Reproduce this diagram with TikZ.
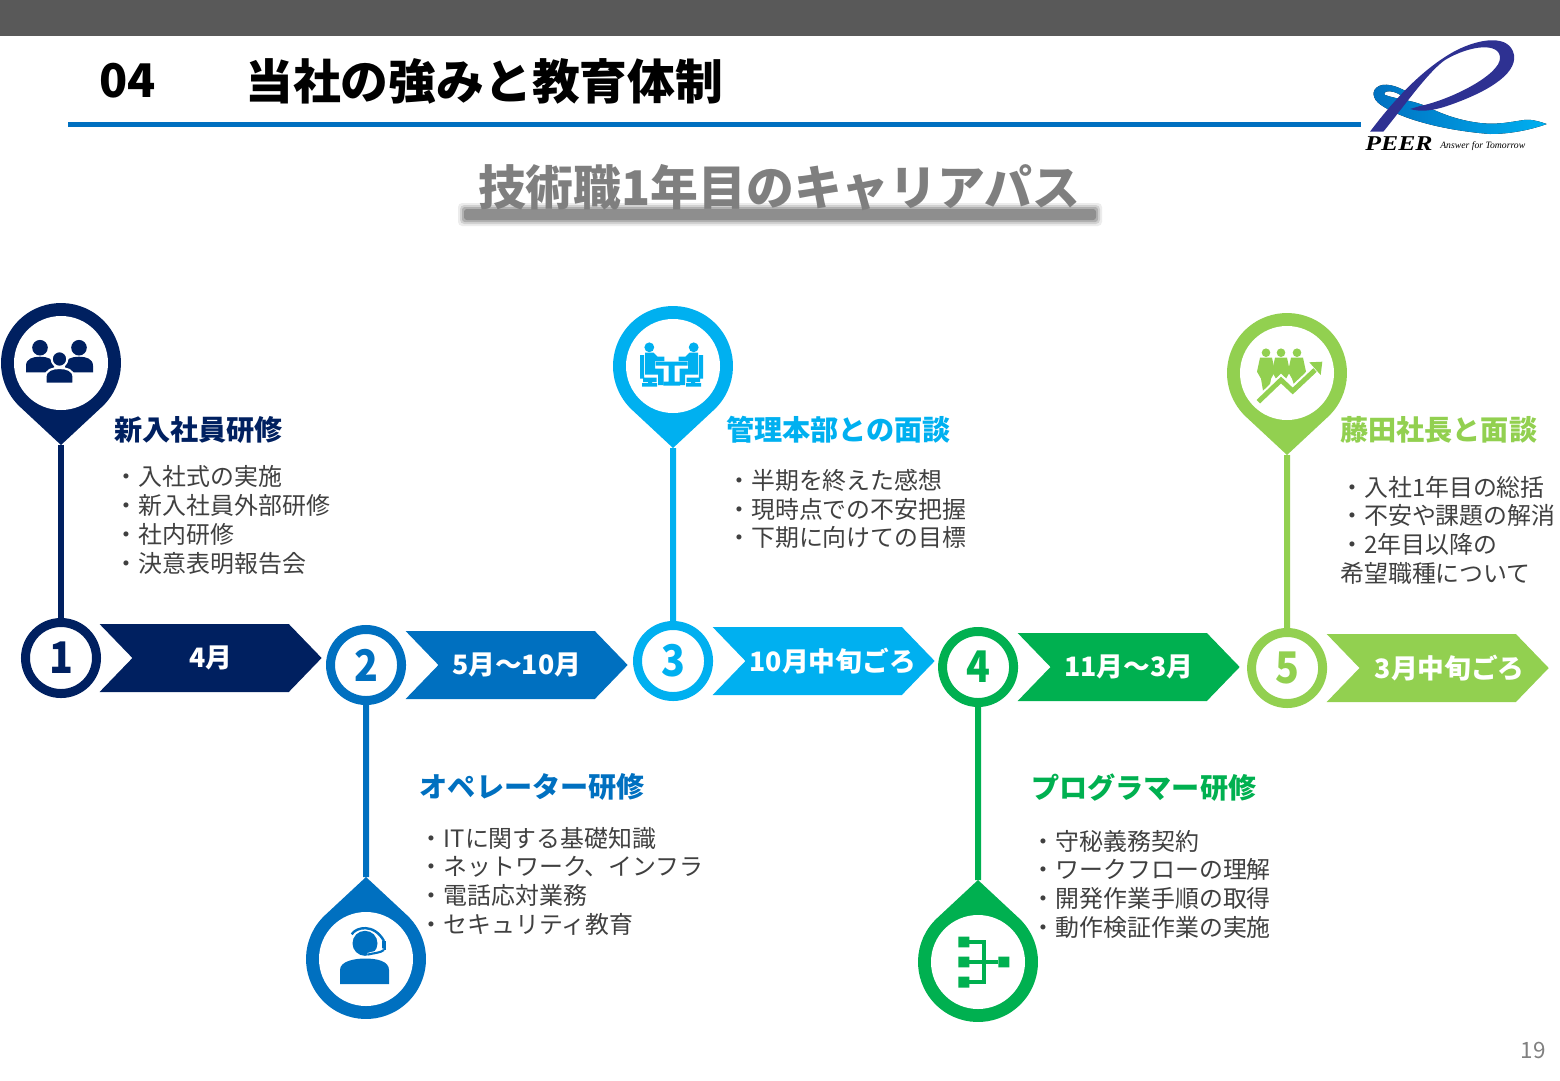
\documentclass[tikz,border=0pt]{standalone}
\usepackage{fontspec}
\setmainfont{Noto Sans CJK JP}
\newfontfamily\logofont{Liberation Serif}
\newfontfamily\numfont[FakeStretch=0.9]{Noto Sans CJK JP}
\usepackage{tikz}
\usetikzlibrary{positioning,calc,shapes.symbols}
\usepackage{xcolor}
\definecolor{navystep}{HTML}{002060}
\definecolor{bluestep}{HTML}{0070C0}
\definecolor{skystep}{HTML}{00B0F0}
\definecolor{greenstep}{HTML}{00B050}
\definecolor{limestep}{HTML}{92D050}
\definecolor{headbar}{HTML}{595959}
\definecolor{bodytext}{HTML}{404040}
\definecolor{subgrey}{HTML}{7F7F7F}
\definecolor{ribbon}{HTML}{2E3192}

\begin{document}
\begin{tikzpicture}[
        x=0.025cm, y=-0.025cm,
        numcircle/.style={circle, fill=white, line width=6.4pt, minimum size=1.775cm, inner sep=0pt, font=\numfont\fontsize{31}{31}\selectfont\bfseries},
        chev/.style={signal, signal from=west, signal to=east, signal pointer angle=92, minimum width=5.55cm, minimum height=1.7cm, inner sep=0pt, text=white, font=\fontsize{19}{19}\selectfont\bfseries},
        headline/.style={anchor=west, inner sep=0pt, font=\fontsize{20}{20}\selectfont\bfseries},
        items/.style={anchor=west, inner sep=0pt, align=left, text=bodytext, font=\fontsize{17}{20.4}\selectfont},
        stem/.style={line width=4.27pt},
        locator/.pic={
            \fill[pic actions] (0,82) -- (47:60) arc[start angle=47, end angle=-227, radius=60] -- cycle;
            \fill[white] (0,0) circle[radius=47];
            \coordinate (-tip) at (0,82);
        },
        person/.pic={
            \path[pic actions] (0,0) circle[radius=7.8];
            \path[pic actions] (-14,24.7) -- (-14,18) .. controls (-14,11) and (-7,9) .. (0,9) .. controls (7,9) and (14,11) .. (14,18) -- (14,24.7) -- cycle;
        },
        sitter/.pic={
            \fill[pic actions] (-22.2,-17.7) circle[radius=4.9];
            \fill[pic actions] (-26.5,-12.3) -- (-18,-12.3) -- (-14,-8.3) -- (-7.2,-8.3) -- (-7.2,-4) -- (-16.5,-4) -- (-16.5,3.5) -- (-8,3.5) -- (-8,20) -- (-13.5,20) -- (-13.5,9.5) -- (-26.5,9.5) -- cycle;
            \fill[pic actions] (-31.5,-10) rectangle (-27.4,13.5) (-28.5,12.5) rectangle (-15,17) (-23.5,16.7) rectangle (-19.5,19) (-29.5,18) rectangle (-14.5,21.5);
        },
        figure/.pic={
            \fill[limestep] (0,0) circle[radius=4.3];
            \fill[limestep] (-6,5) -- (6,5) -- (9,19) -- (5,26) -- (3,#1) -- (-3,#1) -- (-5,26) -- (-9,19) -- cycle;
        }
    ]
        \useasboundingbox (0,0) rectangle (1560,1080);

        % Header
        \fill[headbar] (0,0) rectangle (1560,36);
        \node[anchor=west, inner sep=0pt, font=\fontsize{33}{33}\selectfont\bfseries] (num) at (99,81) {04};
        \node[anchor=west, inner sep=0pt, font=\fontsize{34}{34}\selectfont\bfseries] (title) at (245,81) {当社の強みと教育体制};
        \coordinate (ruleL) at (68,124.5);
        \coordinate (ruleR) at (1361,124.5);
        \draw[bluestep, line width=3.2pt] (ruleL) -- (ruleR);

        % Logo
        \fill[left color=bluestep, right color=skystep] (1411.7,95) .. controls (1402,88) and (1388,82) .. (1379,86) .. controls (1371,90) and (1372,99) .. (1381,105) .. controls (1400,118) and (1440,130) .. (1490,134) .. controls (1510,134) and (1530,130) .. (1546.7,124) .. controls (1538,121) and (1530,119) .. (1524,120) .. controls (1510,122) and (1498,125) .. (1480,123) .. controls (1455,120) and (1438,112) .. (1423,105) .. controls (1410,100) and (1396,99) .. (1385,95) .. controls (1382,92) and (1388,90) .. (1394,92) .. controls (1398,93) and (1402,96) .. (1406,99) -- cycle;
        \fill[ribbon] (1370,131.7) .. controls (1390,105) and (1420,70) .. (1455,51) .. controls (1480,38) and (1510,34) .. (1514,55) .. controls (1517,75) and (1485,93) .. (1447,106) .. controls (1432,111) and (1420,112) .. (1410,109) -- (1420,106) .. controls (1450,100) and (1500,75) .. (1500,58) .. controls (1500,42) and (1470,45) .. (1445,60) .. controls (1428,72) and (1405,105) .. (1383.3,131.7) -- cycle;
        \node[inner sep=0pt, xscale=1.22, font=\logofont\fontsize{15}{15}\selectfont\bfseries\itshape, transform shape] (peer) at (1399,144) {PEER};
        \node[anchor=west, inner sep=0pt, font=\logofont\fontsize{6.9}{6.9}\selectfont\itshape] (answer) at (1440,146) {Answer for Tomorrow};

        % Subtitle
        \fill[subgrey, opacity=0.15, rounded corners=3pt] (458,203) rectangle (1102,226);
        \fill[subgrey, opacity=0.25, rounded corners=3pt] (460,205) rectangle (1100,224);
        \fill[subgrey, opacity=0.4, rounded corners=2pt] (462,207) rectangle (1098,222);
        \fill[subgrey, opacity=0.7, rounded corners=2pt] (464,209) rectangle (1096,220);
        \node[inner sep=0pt, text=subgrey, font=\fontsize{34}{34}\selectfont\bfseries] (subtitle) at (779,188) {技術職1年目のキャリアパス};

        % Step row
        \node[numcircle, draw=navystep, text=navystep] (num1) at (61,658) {1};
        \node[chev, fill=navystep, right=0.775cm of num1] (arrow1) {4月};
        \node[numcircle, draw=bluestep, text=bluestep, right=0.1cm of arrow1, yshift=-0.175cm] (num2) {2};
        \node[chev, fill=bluestep, right=0.8cm of num2] (arrow2) {5月～10月};
        \node[numcircle, draw=skystep, text=skystep, right=0.125cm of arrow2, yshift=0.1cm] (num3) {3};
        \node[chev, fill=skystep, right=0.8cm of num3] (arrow3) {\makebox[0pt]{\hspace{0.45cm}10月中旬ごろ}};
        \node[numcircle, draw=greenstep, text=greenstep, right=0.075cm of arrow3, yshift=-0.15cm] (num4) {4};
        \node[chev, fill=greenstep, right=0.8cm of num4] (arrow4) {11月～3月};
        \node[numcircle, draw=limestep, text=limestep, right=0.175cm of arrow4, yshift=-0.025cm] (num5) {5};
        \node[chev, fill=limestep, right=0.8cm of num5] (arrow5) {\makebox[0pt]{\hspace{0.6cm}3月中旬ごろ}};

        % Locators above and below
        \pic[fill=navystep] (pin1) at (61,363) {locator};
        \pic[fill=bluestep, rotate=180] (pin2) at (366,959) {locator};
        \pic[fill=skystep] (pin3) at (673,366) {locator};
        \pic[fill=greenstep, rotate=180] (pin4) at (978,962) {locator};
        \pic[fill=limestep] (pin5) at (1287,373) {locator};
        \draw[stem, navystep] (num1) -- (pin1-tip);
        \draw[stem, bluestep] (num2) -- (pin2-tip);
        \draw[stem, skystep] (num3) -- (pin3-tip);
        \draw[stem, greenstep] (num4) -- (pin4-tip);
        \draw[stem, limestep] (num5) -- (pin5-tip);

        % Icon 1: group
        \pic[fill=navystep] at (40,347.7) {person};
        \pic[fill=navystep] at (79,347.7) {person};
        \pic[fill=navystep, draw=white, line width=1.5pt] at (59.5,359) {person};

        % Icon 2: headset
        \fill[bluestep] (340,984) -- (340,970) .. controls (340,961) and (355,958.5) .. (365,958.5) .. controls (377,958.5) and (389,961) .. (389,970) -- (389,984) -- cycle;
        \fill[bluestep] (365,943.3) circle[radius=12.5];
        \draw[bluestep, line width=1.7pt] (351.7,934.3) .. controls (356,927) and (374,923) .. (384,941);
        \fill[bluestep] (382,940.7) rectangle (385.7,950);
        \draw[white, line width=3pt] (384,950) .. controls (380,953) and (374,953) .. (368,955);
        \draw[bluestep, line width=1.5pt] (384,950) .. controls (380,953) and (374,953) .. (368,954.5);

        % Icon 3: meeting
        \pic[fill=skystep] at (671.5,365) {sitter};
        \pic[fill=skystep, xscale=-1] at (671.5,365) {sitter};
        \fill[skystep] (655.5,361.7) rectangle (687.5,365.7) (668.5,365.7) rectangle (674.5,382) (663.3,381.7) rectangle (680,385.7);

        % Icon 4: hierarchy
        \fill[greenstep] (958.3,936.7) rectangle (969.3,947.3) (958.3,956.7) rectangle (969.3,967.3) (958.3,976.7) rectangle (969.3,987.7) (998.3,956.7) rectangle (1009.3,967.3);
        \draw[greenstep, line width=2.3pt] (969,942) -| (984,982) -- (969,982) (969,962) -- (998,962);

        % Icon 5: growth
        \pic at (1266,352.7) {figure=38};
        \pic at (1281,352.7) {figure=28};
        \pic at (1297,352.7) {figure=32};
        \draw[white, line width=6.5pt] (1258.3,401.7) -- (1281,380) -- (1292.7,391) -- (1315,370);
        \fill[white, draw=white, line width=2.5pt] (1322.3,361.7) -- (1309.3,362.3) -- (1320.7,375) -- cycle;
        \draw[limestep, line width=3.5pt] (1258.3,401.7) -- (1281,380) -- (1292.7,391) -- (1315,370);
        \fill[limestep] (1322.3,361.7) -- (1309.3,362.3) -- (1320.7,375) -- cycle;

        % Captions
        \node[headline, text=navystep] (head1) at (114,430) {新入社員研修};
        \node[items] (list1) at (114.5,520) {・入社式の実施\\・新入社員外部研修\\・社内研修\\・決意表明報告会};
        \node[headline, text=bluestep] (head2) at (419.5,787) {オペレーター研修};
        \node[items] (list2) at (419.5,881) {・ITに関する基礎知識\\・ネットワーク、インフラ\\・電話応対業務\\・セキュリティ教育};
        \node[headline, text=skystep] (head3) at (726,430) {管理本部との面談};
        \node[items] (list3) at (727,509) {・半期を終えた感想\\・現時点での不安把握\\・下期に向けての目標};
        \node[headline, text=greenstep] (head4) at (1031,788) {プログラマー研修};
        \node[items] (list4) at (1031.5,884) {・守秘義務契約\\・ワークフローの理解\\・開発作業手順の取得\\・動作検証作業の実施};
        \node[headline, text=limestep] (head5) at (1340,430) {藤田社長と面談};
        \node[items] (list5) at (1340,530) {・入社1年目の総括\\・不安や課題の解消\\・2年目以降の\\希望職種について};

        % Page number
        \node[inner sep=0pt, text=gray, font=\fontsize{16}{16}\selectfont] (page) at (1533,1050) {19};
    \end{tikzpicture}
\end{document}
